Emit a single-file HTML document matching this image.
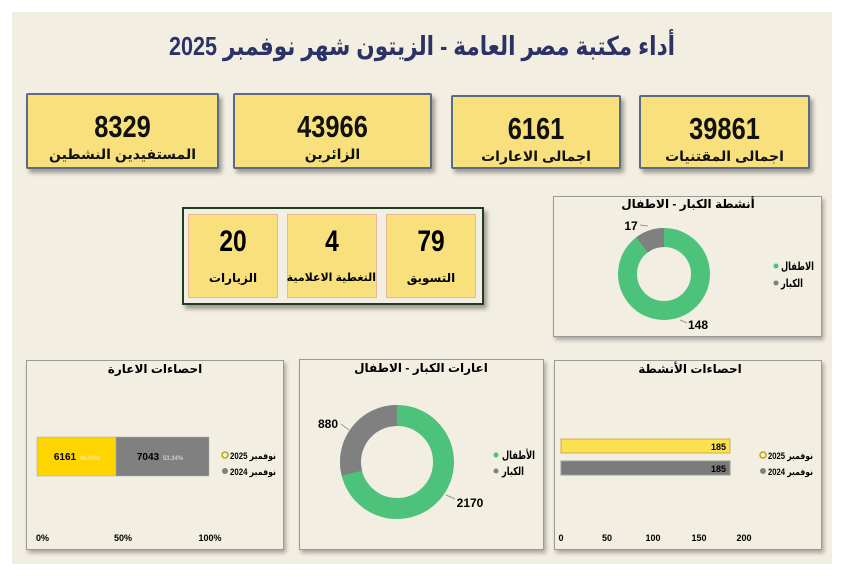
<!DOCTYPE html>
<html><head><meta charset="utf-8"><style>
*{margin:0;padding:0;box-sizing:border-box}
body{width:844px;height:576px;background:#fff;position:relative;overflow:hidden;font-family:"Liberation Sans","DejaVu Sans",sans-serif}
.bg{position:absolute;left:12px;top:12px;width:820px;height:552px;background:#f3eee2}
.kpi{position:absolute;background:#f8e17c;border:2px solid #5a6b88;border-radius:2px;box-shadow:3px 4px 4px rgba(0,0,0,.35);text-align:center}
.kpi .n{font-weight:bold;font-size:31px;line-height:30px;margin-top:17px;color:#111;transform:scaleX(.82)}
.kpi .l{font-weight:bold;font-size:14px;margin-top:4px;color:#111;direction:rtl;white-space:nowrap}
.grp{position:absolute;left:182px;top:207px;width:302px;height:98px;border:2px solid #1f3d1f;background:#f3eee2;box-shadow:3px 4px 4px rgba(0,0,0,.35)}
.mc{position:absolute;top:5px;width:90px;height:84px;background:#f8e17c;border:1px solid #e8b898;text-align:center}
.mc .n{font-weight:bold;font-size:30px;margin-top:12px;line-height:30px;transform:scaleX(.82)}
.mc .l{font-weight:bold;font-size:12px;margin-top:14px;direction:rtl;white-space:nowrap}
.pan{position:absolute;background:#f3eee2;border:1px solid #999;box-shadow:2px 3px 4px rgba(0,0,0,.3)}
svg{position:absolute;left:0;top:0}
</style></head><body>
<div class="bg"></div>
<div style="position:absolute;left:0;width:844px;top:31px;text-align:center;font-weight:bold;font-size:26px;color:#2b3266;direction:rtl;transform:scaleX(.83)">أداء مكتبة مصر العامة - الزيتون شهر نوفمبر 2025</div>

<div class="kpi" style="left:26px;top:93px;width:193px;height:76px"><div class="n">8329</div><div class="l">المستفيدين النشطين</div></div>
<div class="kpi" style="left:233px;top:93px;width:199px;height:76px"><div class="n">43966</div><div class="l">الزائرين</div></div>
<div class="kpi" style="left:451px;top:95px;width:170px;height:74px"><div class="n">6161</div><div class="l">اجمالى الاعارات</div></div>
<div class="kpi" style="left:639px;top:95px;width:171px;height:74px"><div class="n">39861</div><div class="l">اجمالى المقتنيات</div></div>

<div class="grp">
<div class="mc" style="left:4px"><div class="n">20</div><div class="l">الزيارات</div></div>
<div class="mc" style="left:103px"><div class="n">4</div><div class="l" style="font-size:11px">التغطية الاعلامية</div></div>
<div class="mc" style="left:202px"><div class="n">79</div><div class="l">التسويق</div></div>
</div>

<div class="pan" style="left:553px;top:196px;width:269px;height:141px"></div>
<div class="pan" style="left:26px;top:360px;width:258px;height:190px"></div>
<div class="pan" style="left:299px;top:359px;width:245px;height:191px"></div>
<div class="pan" style="left:554px;top:360px;width:268px;height:190px"></div>

<svg width="844" height="576" font-family="Liberation Sans, DejaVu Sans, sans-serif" font-weight="bold">
<text x="688" y="208" font-size="12" text-anchor="middle">أنشطة الكبار - الاطفال</text>
<circle cx="664" cy="274" r="36.5" fill="none" stroke="#4cc27a" stroke-width="19"/>
<circle cx="664" cy="274" r="36.5" fill="none" stroke="#808080" stroke-width="19" stroke-dasharray="23.6 300" transform="rotate(-127.1 664 274)"/>
<text x="631" y="230" font-size="12" text-anchor="middle">17</text>
<line x1="640" y1="225" x2="648" y2="226" stroke="#999"/>
<text x="698" y="329" font-size="12" text-anchor="middle">148</text>
<line x1="680" y1="320" x2="687" y2="323" stroke="#999"/>
<circle cx="776" cy="266" r="2.5" fill="#4cc27a"/><text x="781" y="270" font-size="11" textLength="33" lengthAdjust="spacingAndGlyphs">الاطفال</text>
<circle cx="776" cy="283" r="2.5" fill="#808080"/><text x="781" y="287" font-size="11" textLength="22" lengthAdjust="spacingAndGlyphs">الكبار</text>

<text x="155" y="373" font-size="12" text-anchor="middle">احصاءات الاعارة</text>
<rect x="37" y="437" width="79" height="39" fill="#ffd500" stroke="#aaa" stroke-width=".5"/>
<rect x="116" y="437" width="93" height="39" fill="#808080" stroke="#aaa" stroke-width=".5"/>
<text x="65" y="460" font-size="10" text-anchor="middle">6161</text><text x="90" y="460" font-size="6" fill="#f2e6a0" text-anchor="middle">46.66%</text>
<text x="148" y="460" font-size="10" text-anchor="middle">7043</text><text x="173" y="460" font-size="6" fill="#ccc" text-anchor="middle">53.34%</text>
<circle cx="225" cy="455" r="3" fill="none" stroke="#b5a800" stroke-width="1.5"/><text x="230" y="459" font-size="9" textLength="46" lengthAdjust="spacingAndGlyphs">نوفمبر 2025</text>
<circle cx="225" cy="471" r="3" fill="#808080"/><text x="230" y="475" font-size="9" textLength="46" lengthAdjust="spacingAndGlyphs">نوفمبر 2024</text>
<text x="36" y="541" font-size="9">0%</text><text x="123" y="541" font-size="9" text-anchor="middle">50%</text><text x="210" y="541" font-size="9" text-anchor="middle">100%</text>

<text x="421" y="372" font-size="12" text-anchor="middle">اعارات الكبار - الاطفال</text>
<circle cx="397" cy="462" r="46.5" fill="none" stroke="#4cc27a" stroke-width="21"/>
<circle cx="397" cy="462" r="46.5" fill="none" stroke="#808080" stroke-width="21" stroke-dasharray="84.3 400" transform="rotate(-193.9 397 462)"/>
<text x="328" y="428" font-size="12" text-anchor="middle">880</text>
<line x1="341" y1="424" x2="349" y2="430" stroke="#999"/>
<text x="470" y="507" font-size="12" text-anchor="middle">2170</text>
<line x1="446" y1="495" x2="455" y2="499" stroke="#999"/>
<circle cx="496" cy="455" r="2.5" fill="#4cc27a"/><text x="502" y="459" font-size="11" textLength="33" lengthAdjust="spacingAndGlyphs">الأطفال</text>
<circle cx="496" cy="471" r="2.5" fill="#808080"/><text x="502" y="475" font-size="11" textLength="22" lengthAdjust="spacingAndGlyphs">الكبار</text>

<text x="690" y="373" font-size="12" text-anchor="middle">احصاءات الأنشطة</text>
<rect x="561" y="439" width="169" height="14" fill="#fbe04f" stroke="#c8b24a"/>
<rect x="561" y="461" width="169" height="14" fill="#7a7a7a" stroke="#999"/>
<text x="726" y="450" font-size="9" text-anchor="end">185</text>
<text x="726" y="472" font-size="9" text-anchor="end">185</text>
<circle cx="763" cy="455" r="3" fill="none" stroke="#b5a800" stroke-width="1.5"/><text x="768" y="459" font-size="9" textLength="45" lengthAdjust="spacingAndGlyphs">نوفمبر 2025</text>
<circle cx="763" cy="471" r="3" fill="#808080"/><text x="768" y="475" font-size="9" textLength="45" lengthAdjust="spacingAndGlyphs">نوفمبر 2024</text>
<g font-size="9" text-anchor="middle"><text x="561" y="541">0</text><text x="607" y="541">50</text><text x="653" y="541">100</text><text x="699" y="541">150</text><text x="744" y="541">200</text></g>
</svg>
</body></html>
